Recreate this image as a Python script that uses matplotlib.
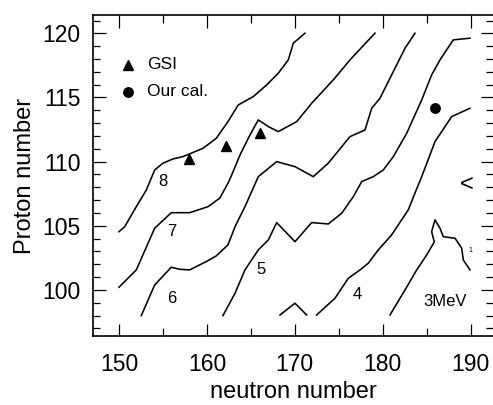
import matplotlib
matplotlib.use('Agg')
import matplotlib.pyplot as plt
from matplotlib.ticker import MultipleLocator

plt.rcParams['font.family'] = ['Liberation Sans', 'DejaVu Sans']

# Contour lines: neutron number (N) vs proton number (Z)
c8_n = [150.0, 150.65, 151.97, 153.11, 154.06, 155.0, 156.14, 157.28, 159.56, 161.07,
        162.4, 163.57, 165.28, 166.8, 168.12, 169.26, 169.83, 171.16]
c8_z = [104.54, 104.93, 106.49, 107.79, 109.35, 109.88, 110.21, 110.39, 111.04, 111.82,
        113.12, 114.42, 115.07, 115.98, 116.89, 117.93, 119.23, 120.01]

c7_n = [150.0, 151.97, 154.06, 155.95, 158.04, 160.13, 161.46, 162.4, 162.82, 163.77,
        164.9, 165.85, 166.99, 168.12, 170.22, 171.92, 174.38, 176.28, 179.12]
c7_z = [100.21, 101.56, 104.81, 106.02, 106.02, 106.49, 107.15, 108.32, 108.96, 110.52,
        112.08, 113.25, 112.73, 112.34, 113.12, 114.55, 116.37, 117.93, 120.01]

c6_n = [152.54, 154.06, 155.95, 156.91, 158.04, 159.93, 161.07, 162.4, 163.2, 164.33,
        165.85, 167.94, 170.02, 172.1, 173.81, 176.28, 177.99, 178.75, 179.69, 180.45,
        181.59, 182.54, 183.67]
c6_z = [98.0, 100.39, 101.77, 101.61, 101.56, 102.21, 102.65, 103.51, 104.93, 106.49,
        108.83, 110.0, 109.61, 108.83, 109.88, 111.95, 112.47, 114.16, 114.94, 115.98,
        117.54, 118.84, 120.01]

c5_n = [161.83, 163.2, 164.33, 165.85, 166.99, 167.94, 170.02, 171.92, 173.81, 175.34,
        176.66, 177.61, 178.93, 180.07, 181.21, 182.73, 184.44, 185.57, 186.52, 188.03,
        189.93]
c5_z = [98.0, 99.74, 101.56, 103.12, 103.9, 105.25, 103.76, 105.25, 105.14, 105.98,
        107.27, 108.44, 108.83, 109.35, 110.39, 112.21, 114.81, 116.76, 117.93, 119.49,
        119.62]

c4b_n = [168.32, 170.02, 171.35]
c4b_z = [98.05, 98.96, 98.05]

c4_n = [172.49, 174.57, 176.09, 177.42, 178.36, 179.5, 181.02, 182.91, 183.67, 184.44,
        185.95, 187.85, 189.93]
c4_z = [98.05, 99.35, 100.91, 101.56, 102.08, 103.12, 104.29, 106.24, 107.54, 108.83,
        111.56, 113.51, 114.16]

c3_n = [180.83, 182.54, 183.87, 185.01, 185.87, 185.57, 185.95, 186.52, 186.89, 188.23,
        188.99, 189.17, 189.93]
c3_z = [98.05, 100.0, 101.56, 102.73, 103.74, 104.54, 105.46, 104.81, 104.15, 104.03,
        103.25, 102.34, 101.56]

contour_n = [c8_n, c7_n, c6_n, c5_n, c4b_n, c4_n, c3_n]
contour_z = [c8_z, c7_z, c6_z, c5_z, c4b_z, c4_z, c3_z]

# Contour labels
label_text = ['8', '7', '6', '5', '4', '3MeV', '<', '1']
label_n = [155.0, 156.0, 156.0, 166.15, 177.05, 187.1, 189.55, 189.93]
label_z = [108.44, 104.54, 99.35, 101.56, 99.61, 99.09, 108.18, 103.1]
label_size = [12, 12, 12, 12, 12, 12, 17, 5]

# Data points
gsi_n = [158.0, 162.2, 166.0]
gsi_z = [110.2, 111.2, 112.2]
cal_n = [186.0]
cal_z = [114.2]

# Legend entries
legend_labels = ['GSI', 'Our cal.']
legend_marker_n = [151.0, 151.0]
legend_marker_z = [117.54, 115.46]

fig = plt.figure(figsize=(4.93, 4.05), dpi=100)
ax = fig.add_axes([0.1893, 0.1704, 0.8107, 0.7926])

for xs, ys in zip(contour_n, contour_z):
    ax.plot(xs, ys, color='black', lw=1.15, solid_joinstyle='round')

ax.plot(gsi_n, gsi_z, linestyle='none', marker='^', ms=7.5, color='black')
ax.plot(cal_n, cal_z, linestyle='none', marker='o', ms=6.8, color='black')

for t, x, y, s in zip(label_text, label_n, label_z, label_size):
    ax.text(x, y, t, fontsize=s, ha='center', va='center')

# legend drawn as markers + text inside the axes
ax.plot(legend_marker_n[0], legend_marker_z[0], marker='^', ms=7.5, color='black', linestyle='none')
ax.plot(legend_marker_n[1], legend_marker_z[1], marker='o', ms=6.8, color='black', linestyle='none')
ax.text(legend_marker_n[0] + 2.2, legend_marker_z[0], legend_labels[0], fontsize=12.5, ha='left', va='center')
ax.text(legend_marker_n[1] + 2.2, legend_marker_z[1], legend_labels[1], fontsize=12.5, ha='left', va='center')

ax.set_xlim(147.08, 192.55)
ax.set_ylim(96.41, 121.43)

ax.xaxis.set_major_locator(MultipleLocator(10))
ax.xaxis.set_minor_locator(MultipleLocator(5))
ax.yaxis.set_major_locator(MultipleLocator(5))
ax.yaxis.set_minor_locator(MultipleLocator(1))

ax.tick_params(which='both', direction='in', top=True, right=True, width=0.9)
ax.tick_params(which='major', length=9, labelsize=16.5)
ax.tick_params(axis='x', which='minor', length=5.8)
ax.tick_params(axis='y', which='minor', length=4.7)
ax.tick_params(axis='x', which='major', pad=12)
ax.tick_params(axis='y', which='major', pad=9)

for sp in ax.spines.values():
    sp.set_linewidth(1.2)
ax.spines['right'].set_visible(False)

ax.set_xlabel('neutron number', fontsize=17, labelpad=4)
ax.set_ylabel('Proton number', fontsize=17, labelpad=5)

fig.savefig('out.png', dpi=100)
